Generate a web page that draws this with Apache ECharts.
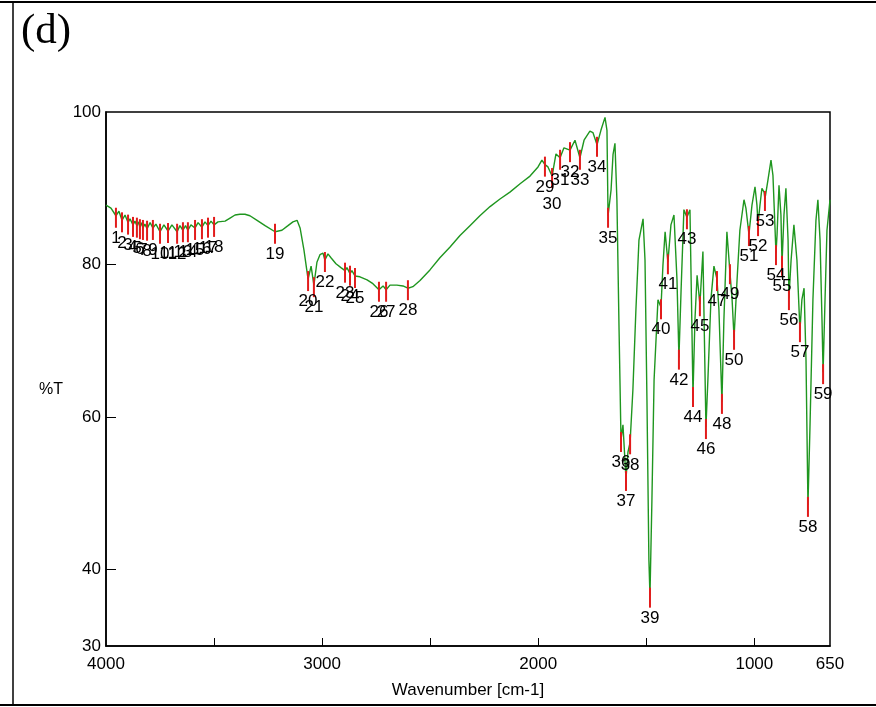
<!DOCTYPE html>
<html>
<head>
<meta charset="utf-8">
<script src="https://cdn.jsdelivr.net/npm/echarts@6/dist/echarts.min.js"></script>
<style>
  html, body { margin: 0; padding: 0; background: #fff; }
  #chart { width: 876px; height: 707px; }
</style>
</head>
<body>
<div id="chart"></div>
<script>
// IR spectrum: wavenumber (cm-1) and transmittance (%T)
const specWn = [4000,3977,3954,3940,3926,3912,3898,3889,3875,3866,3857,3850,3843,3836,3829,3820,3810,3796,3783,3769,
  3750,3732,3713,3695,3671,3658,3644,3632,3621,3607,3588,3574,3556,3542,3528,3514,3500,3482,3449,3426,
  3403,3380,3357,3334,3301,3264,3218,3186,3158,3135,3116,3102,3084,3065,3051,3038,3024,3010,2996,2987,
  2973,2959,2936,2913,2894,2885,2871,2862,2848,2825,2792,2765,2737,2718,2704,2686,2654,2626,2603,2580,
  2547,2501,2455,2408,2362,2316,2270,2223,2177,2131,2084,2038,2001,1983,1969,1955,1936,1918,1899,1881,
  1853,1830,1821,1807,1788,1761,1747,1728,1710,1691,1682,1677,1663,1654,1645,1636,1626,1617,1608,1594,
  1585,1575,1562,1548,1534,1515,1506,1497,1488,1483,1474,1464,1446,1432,1423,1413,1400,1386,1372,1358,
  1349,1339,1326,1312,1298,1291,1284,1275,1265,1252,1238,1231,1224,1215,1201,1187,1173,1164,1150,1141,
  1127,1113,1103,1094,1080,1067,1048,1039,1025,1011,997,988,983,974,965,955,951,937,923,914,
  905,900,895,886,877,872,863,854,844,840,830,817,803,789,780,770,761,752,743,729,
  715,706,696,687,682,673,664,650];
const specT = [87.8,87.4,86.4,87.0,85.8,86.5,85.5,86.0,85.2,85.7,85.1,85.6,84.9,85.5,84.8,85.3,84.7,85.5,84.8,85.3,
  84.3,85.2,84.4,85.2,84.3,85.1,84.5,85.1,84.5,85.2,84.8,85.5,84.9,85.6,85.1,85.7,85.2,85.6,85.7,86.1,
  86.5,86.6,86.6,86.4,85.8,85.1,84.3,84.5,85.1,85.6,85.8,84.8,81.9,78.1,79.8,77.3,80.3,81.3,81.5,80.6,
  81.4,80.9,80.1,79.6,79.2,79.6,78.8,79.2,78.5,78.4,78.0,77.5,76.7,77.2,76.7,77.3,77.3,77.2,76.9,77.1,
  77.9,79.3,80.9,82.3,83.8,85.1,86.4,87.6,88.6,89.5,90.6,91.6,92.8,93.7,93.1,92.8,91.6,94.5,94.0,95.3,
  95.0,96.3,96.5,94.0,96.3,97.5,97.3,95.7,97.6,99.3,97.6,86.4,89.8,94.4,95.9,88.5,71.4,57.0,59.0,51.9,
  55.4,56.7,63.6,74.1,83.2,86.0,80.6,62.3,41.3,36.6,49.1,64.9,75.4,74.4,79.9,84.3,80.3,85.2,86.5,78.0,
  67.8,76.7,87.2,86.2,87.2,75.4,62.9,72.7,78.6,74.8,81.7,70.1,58.7,64.9,75.4,79.8,78.1,74.1,62.0,72.7,
  84.3,79.0,75.4,70.4,78.0,84.5,88.5,87.4,84.0,87.8,90.2,87.8,85.3,87.8,90.0,89.5,88.6,91.1,93.7,91.7,
  85.2,81.5,83.9,90.4,86.5,80.1,86.5,90.0,83.2,75.6,80.6,85.2,80.6,71.4,75.4,76.9,67.5,48.5,58.3,75.4,
  85.8,88.5,83.2,72.7,65.9,75.4,84.5,88.5];

// Picked peaks
const peakNo = [1,2,3,4,5,6,7,8,9,10,11,12,13,14,15,16,17,18,19,20,21,22,23,24,25,26,27,28,29,30,
  31,32,33,34,35,36,37,38,39,40,41,42,43,44,45,46,47,48,49,50,51,52,53,54,55,56,57,58,59];
const peakWn = [3954,3926,3898,3875,3857,3843,3829,3810,3783,3750,3713,3671,3644,3621,3588,3556,3528,3500,
  3218,3065,3038,2987,2894,2871,2848,2737,2704,2603,
  1969,1936,1899,1853,1807,1728,1677,1617,1594,1575,1483,
  1432,1400,1349,1312,1284,1252,1224,1173,1150,1113,1094,1025,983,951,900,872,840,789,752,682];
const peakT = [86.4,85.8,85.5,85.2,85.1,84.9,84.8,84.7,84.8,84.3,84.4,84.3,84.5,84.5,84.8,84.9,85.1,85.2,
  84.3,78.1,77.3,80.6,79.2,78.8,78.5,76.7,76.7,76.9,
  93.1,91.6,94.0,95.0,94.0,95.7,86.4,57.0,51.9,56.7,36.6,
  74.4,80.3,67.8,86.2,62.9,74.8,58.7,78.1,62.0,79.0,70.4,84.0,85.3,88.6,81.5,80.1,75.6,71.4,48.5,65.9];

// Axis ticks and labels
const xLabelValues = [4000, 3000, 2000, 1000, 650];
const xTickValues = [3500, 3000, 2500, 2000, 1500, 1000];
const yLabelValues = [100, 80, 60, 40, 30];
const yTickValues = [80, 60, 40];

// Peak labels pushed further down where they crowd a neighbour (px)
const labelDrop = { 30: 6 };

const FONT = '"Liberation Sans", Arial, sans-serif';
const chart = echarts.init(document.getElementById('chart'), null, { renderer: 'canvas' });

chart.setOption({
  animation: false,
  backgroundColor: '#fff',
  textStyle: { fontFamily: FONT },
  grid: {
    left: 106, right: 46, top: 112, bottom: 61,
    show: true, borderColor: '#000', borderWidth: 1.5, backgroundColor: 'transparent'
  },
  xAxis: {
    type: 'value', inverse: true, min: 650, max: 4000,
    name: 'Wavenumber [cm-1]', nameLocation: 'middle', nameGap: 36,
    nameTextStyle: { color: '#000', fontSize: 17, fontFamily: FONT },
    axisLine: { show: true, lineStyle: { color: '#000', width: 1.5 } },
    axisTick: { show: true, inside: true, length: 8, customValues: xTickValues, lineStyle: { color: '#000' } },
    axisLabel: { customValues: xLabelValues, formatter: v => String(v),
      color: '#000', fontSize: 17, margin: 10, fontFamily: FONT },
    splitLine: { show: false }
  },
  yAxis: {
    type: 'value', min: 30, max: 100,
    axisLine: { show: true, lineStyle: { color: '#000', width: 1.5 } },
    axisTick: { show: true, inside: true, length: 10, customValues: yTickValues, lineStyle: { color: '#000' } },
    axisLabel: { customValues: yLabelValues, formatter: v => String(v),
      color: '#000', fontSize: 17, margin: 5, fontFamily: FONT },
    splitLine: { show: false }
  },
  graphic: [
    { type: 'line', shape: { x1: 0, y1: 2, x2: 876, y2: 2 }, style: { stroke: '#000', lineWidth: 2 } },
    { type: 'line', shape: { x1: 0, y1: 705, x2: 876, y2: 705 }, style: { stroke: '#000', lineWidth: 2 } },
    { type: 'line', shape: { x1: 13, y1: 2, x2: 13, y2: 705 }, style: { stroke: '#000', lineWidth: 1.5 } },
    { type: 'text', left: 21, top: 10,
      style: { text: '(d)', fill: '#000', font: '43px "Liberation Serif", "Times New Roman", serif' } },
    { type: 'text', left: 39, top: 382,
      style: { text: '%T', fill: '#000', font: '16px ' + FONT } }
  ],
  series: [
    {
      type: 'line',
      data: specWn.map((w, i) => [w, specT[i]]),
      showSymbol: false,
      smooth: false,
      lineStyle: { color: '#1f961f', width: 1.4 },
      z: 2
    },
    {
      type: 'scatter',
      data: peakWn.map((w, i) => ({
        value: [w, peakT[i], peakNo[i]],
        label: { distance: 2 + (labelDrop[peakNo[i]] || 0) }
      })),
      symbol: 'rect',
      symbolSize: [2, 20],
      symbolOffset: [0, 2],
      itemStyle: { color: '#e21b1b', opacity: 1 },
      label: {
        show: true, position: 'bottom', distance: 2,
        formatter: p => String(p.value[2]),
        color: '#000', opacity: 1, textBorderWidth: 0,
        fontSize: 17, fontFamily: FONT
      },
      z: 3
    }
  ]
});
</script>
</body>
</html>
